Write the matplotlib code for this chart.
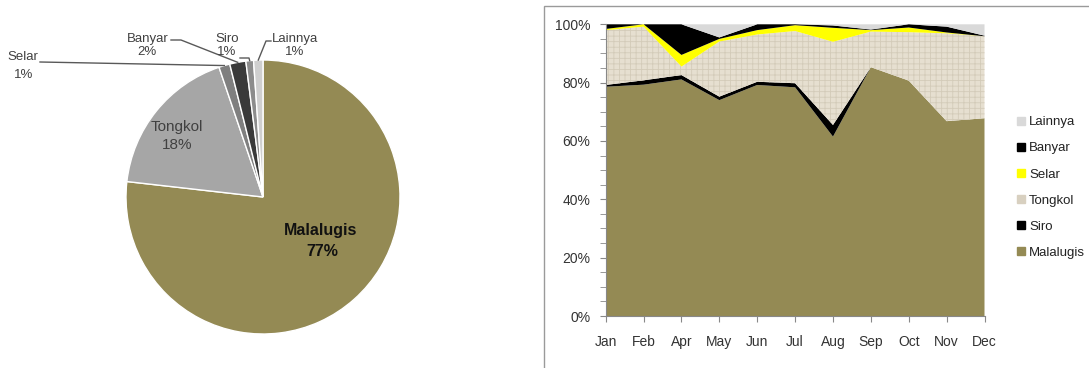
import matplotlib
matplotlib.use("Agg")
import numpy as np
import matplotlib.pyplot as plt
from matplotlib.lines import Line2D
from matplotlib.patches import Rectangle
from matplotlib.ticker import MultipleLocator, FuncFormatter

plt.rcParams['font.family'] = ['Liberation Sans Narrow', 'Liberation Sans', 'DejaVu Sans']
plt.rcParams['hatch.color'] = '#D3CBB9'
plt.rcParams['hatch.linewidth'] = 0.6

# yearly share per species (pie)
species = ['Malalugis', 'Tongkol', 'Selar', 'Banyar', 'Siro', 'Lainnya']
share = [76.8, 18.0, 1.3, 1.9, 0.9, 1.1]
pie_colors = ['#948A54', '#A6A6A6', '#7F7F7F', '#3A3A3A', '#8C8C8C', '#CFCFCF']

# monthly share per species (stacked area, %)
months = ['Jan', 'Feb', 'Apr', 'May', 'Jun', 'Jul', 'Aug', 'Sep', 'Oct', 'Nov', 'Dec']
malalugis = [78.6, 79.3, 81.1, 74.0, 79.2, 78.4, 61.5, 85.3, 80.7, 66.8, 67.8]
siro      = [0.6, 1.5, 1.5, 1.2, 1.1, 1.4, 4.0, 0.0, 0.0, 0.0, 0.0]
tongkol   = [18.8, 18.4, 2.9, 18.9, 16.2, 17.9, 28.5, 12.2, 16.6, 30.1, 28.1]
selar     = [0.4, 0.8, 4.0, 0.9, 1.5, 2.0, 4.8, 0.5, 1.6, 0.3, 0.0]
banyar    = [1.6, 0.0, 10.5, 0.5, 2.0, 0.3, 0.8, 0.2, 1.1, 2.0, 0.2]
lainnya   = [0.0, 0.0, 0.0, 4.5, 0.0, 0.0, 0.4, 1.8, 0.0, 0.8, 3.9]

W, H = 1089, 368
fig = plt.figure(figsize=(W / 100, H / 100), dpi=100)

# ---------------- pie ----------------
cx, cy, R = 263, 197, 137   # centre and radius in pixels
ax1 = fig.add_axes([0, 0, 526 / W, 1])
wedges, _ = ax1.pie(share, colors=pie_colors, startangle=90, counterclock=False,
                    radius=1, wedgeprops=dict(edgecolor='white', linewidth=1))
ax1.set_aspect('auto')
ax1.set_xlim(-cx / R, (526 - cx) / R)
ax1.set_ylim(-(H - cy) / R, cy / R)
ax1.axis('off')

def px(x, y):
    return ((x - cx) / R, (cy - y) / R)

def rim(w):
    a = np.deg2rad((w.theta1 + w.theta2) / 2)
    return np.cos(a), np.sin(a)

pcts = ['%.0f%%' % v for v in share]

ax1.text(*px(321, 231), species[0], ha='center', va='center', fontsize=11.5,
         fontweight='bold', color='#111111')
ax1.text(*px(322, 251), pcts[0], ha='center', va='center', fontsize=11.5,
         fontweight='bold', color='#111111')
ax1.text(*px(177, 127), species[1], ha='center', va='center', fontsize=11, color='#404040')
ax1.text(*px(177, 145), pcts[1], ha='center', va='center', fontsize=11, color='#404040')

# outside labels: name position, pct position, leader path (pixels)
outside = {
    2: ((23, 57), (24, 75), [(40, 62)]),
    3: ((148, 39), (147, 52), [(171, 40), (181, 40)]),
    4: ((227, 39), (227, 52), [(240, 58), (249, 58)]),
    5: ((295, 39), (295, 52), [(271, 41), (266, 41)]),
}
for i, (npos, ppos, path) in outside.items():
    ax1.text(*px(*npos), species[i], ha='center', va='center', fontsize=9.5, color='#404040')
    ax1.text(*px(*ppos), pcts[i], ha='center', va='center', fontsize=9.5, color='#404040')
    pts = [px(*p) for p in path] + [rim(wedges[i])]
    ax1.plot([p[0] for p in pts], [p[1] for p in pts], color='#595959', lw=1)

# ---------------- stacked area ----------------
fig.add_artist(Rectangle((544 / W, -0.05), 1.0, 1 - 6 / H + 0.05, transform=fig.transFigure,
                         fill=False, edgecolor='#9A9A9A', lw=1))

ax2 = fig.add_axes([605.7 / W, (H - 316) / H, (984.5 - 605.7) / W, (316 - 24.3) / H])
x = np.arange(len(months))
layers = [malalugis, siro, tongkol, selar, banyar, lainnya]
names = ['Malalugis', 'Siro', 'Tongkol', 'Selar', 'Banyar', 'Lainnya']
area_colors = ['#948A54', '#000000', '#E6DFD0', '#FFFF00', '#000000', '#D9D9D9']
polys = ax2.stackplot(x, *layers, colors=area_colors, linewidth=0)
polys[2].set_hatch('+++')

ax2.set_xlim(0, len(months) - 1)
ax2.set_ylim(0, 100)
ax2.set_xticks(x)
ax2.set_xticklabels(months)
ax2.yaxis.set_major_locator(MultipleLocator(20))
ax2.yaxis.set_minor_locator(MultipleLocator(5))
ax2.yaxis.set_major_formatter(FuncFormatter(lambda v, p: '%d%%' % v))
for s in ['top', 'right']:
    ax2.spines[s].set_visible(False)
for s in ['left', 'bottom']:
    ax2.spines[s].set_color('#888888')
    ax2.spines[s].set_linewidth(0.8)
ax2.tick_params(axis='y', which='both', direction='out', length=4, color='#888888',
                labelsize=10, labelcolor='#333333', pad=7)
ax2.tick_params(axis='x', direction='out', length=4, color='#888888',
                labelsize=10, labelcolor='#333333', pad=10)

handles = [Line2D([], [], marker='s', ls='none', color=c, markersize=6)
           for c in ['#D9D9D9', '#000000', '#FFFF00', '#D8D0C0', '#000000', '#948A54']]
labels = names[::-1]
fig.legend(handles, labels, loc='center left', bbox_to_anchor=(1016 / W, 1 - 187.5 / H),
           frameon=False, fontsize=9.5, handlelength=0.7, handletextpad=0.3,
           labelspacing=1.05, borderpad=0, borderaxespad=0, labelcolor='#222222')

fig.savefig('out.png', dpi=100)
